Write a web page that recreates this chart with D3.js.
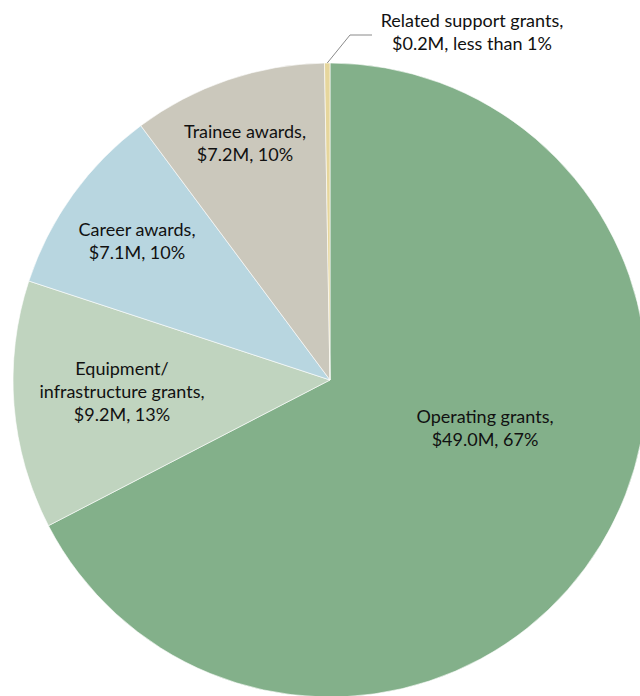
<!DOCTYPE html>
<html>
<head>
<meta charset="utf-8">
<script src="https://cdn.jsdelivr.net/npm/d3@7/dist/d3.min.js"></script>
<style>
  html, body { margin: 0; padding: 0; background: #fff; }
  svg { display: block; }
  text { font-family: Lato, "Open Sans", sans-serif; font-size: 18px; fill: #111; }
</style>
</head>
<body>
<svg id="chart" width="640" height="696"></svg>
<script>
// Funding by grant type, in millions of dollars (clockwise from 12 o'clock)
const categories = ["Operating grants", "Equipment/ infrastructure grants", "Career awards", "Trainee awards", "Related support grants"];
const amounts = [49.0, 9.2, 7.1, 7.2, 0.2];
const shareLabels = ["67%", "13%", "10%", "10%", "less than 1%"];
// How each category name wraps onto lines
const nameLines = [
  ["Operating grants,"],
  ["Equipment/", "infrastructure grants,"],
  ["Career awards,"],
  ["Trainee awards,"],
  ["Related support grants,"]
];
const colors = ["#83b08a", "#c0d4bf", "#b8d6e0", "#cbc8bc", "#e6d69c"];

// Layout: label anchor (x, first baseline) per slice
const labelAnchors = [[485, 423], [122, 375], [137, 236], [245, 138], [472, 27]];
const lineHeight = 23;

const svg = d3.select("#chart");
const cx = 330, cy = 380, radius = 317;

const pie = d3.pie().sort(null).value(d => d)(amounts);
const arc = d3.arc().innerRadius(0).outerRadius(radius);
const color = d3.scaleOrdinal().domain(categories).range(colors);

const g = svg.append("g").attr("transform", `translate(${cx},${cy})`);

g.selectAll("path.slice")
  .data(pie)
  .join("path")
  .attr("class", "slice")
  .attr("d", arc)
  .attr("fill", (d, i) => color(categories[i]))
  .attr("stroke", "#ffffff")
  .attr("stroke-width", 0.6);

// Leader line for the small slice
const small = pie[4];
const mid = (small.startAngle + small.endAngle) / 2;
const edge = [cx + radius * Math.sin(mid), cy - radius * Math.cos(mid)];
svg.append("polyline")
  .attr("points", [edge, [350, 35], [372, 35]].map(p => p.join(",")).join(" "))
  .attr("fill", "none")
  .attr("stroke", "#8a8a8a")
  .attr("stroke-width", 1);

// Labels: name, then amount and share
nameLines.forEach((lines, i) => {
  const [x, y] = labelAnchors[i];
  const all = lines.concat([`$${d3.format(".1f")(amounts[i])}M, ${shareLabels[i]}`]);
  const t = svg.append("text").attr("text-anchor", "middle");
  all.forEach((ln, j) => {
    t.append("tspan").attr("x", x).attr("y", y + j * lineHeight).text(ln);
  });
});
</script>
</body>
</html>
